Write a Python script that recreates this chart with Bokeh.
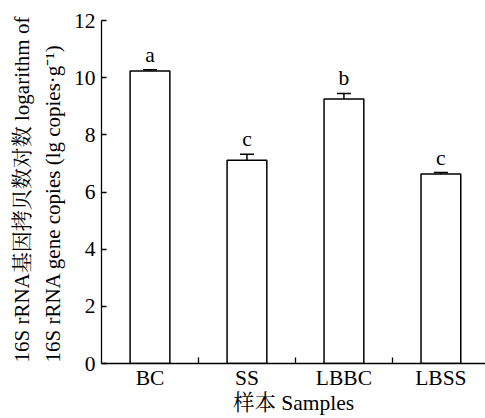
from bokeh.plotting import figure
from bokeh.models import (ColumnDataSource, Range1d, FixedTicker, Whisker, TeeHead, Title)
from bokeh.core.properties import value
from bokeh.embed import file_html
from bokeh.resources import INLINE

categories = ["BC", "SS", "LBBC", "LBSS"]
means = [10.23, 7.11, 9.25, 6.63]
errors = [0.05, 0.21, 0.20, 0.05]
letters = ["a", "c", "b", "c"]
y_ticks = [0, 2, 4, 6, 8, 10, 12]
x_title = "样本 Samples"
y_title_1 = "16S rRNA基因拷贝数对数 logarithm of"
y_title_2 = "16S rRNA gene copies (lg copies·g⁻¹)"

FONT = "Liberation Serif, Noto Serif CJK SC, Noto Sans CJK SC"
FS = "21.5px"
FS_T = "21px"
X_END = 3.96

xs = [i + 0.5 for i in range(len(categories))]
src = ColumnDataSource(dict(
    x=xs, top=means,
    upper=[m + e for m, e in zip(means, errors)],
    lower=[m - e for m, e in zip(means, errors)],
    letter=letters,
))

p = figure(width=485, height=418, output_backend="svg", toolbar_location=None,
           x_range=Range1d(0, X_END), y_range=Range1d(0, 12),
           min_border_left=101, min_border_right=0, min_border_top=20, min_border_bottom=55)
p.outline_line_color = None
p.xgrid.visible = False
p.ygrid.visible = False
p.background_fill_color = "white"
p.border_fill_color = "white"

p.vbar(x="x", top="top", width=0.41, source=src, fill_color="white",
       line_color="black", line_width=1.5)

w = Whisker(base="x", upper="upper", lower="lower", source=src,
            line_color="black", line_width=1.5,
            upper_head=TeeHead(size=14, line_color="black", line_width=1.5),
            lower_head=TeeHead(size=14, line_color="black", line_width=1.5))
p.add_layout(w)

p.text(x="x", y="upper", text="letter", source=src, text_align="center",
       text_baseline="bottom", y_offset=-3, text_font=value(FONT),
       text_font_size=FS, text_color="black")

# y axis
p.yaxis.ticker = FixedTicker(ticks=y_ticks)
p.yaxis.major_tick_in = 5
p.yaxis.major_tick_out = 0
p.yaxis.minor_tick_line_color = None
p.yaxis.axis_line_width = 1.3
p.yaxis.major_tick_line_width = 1.3
p.yaxis.major_label_text_font = FONT
p.yaxis.major_label_text_font_size = FS
p.yaxis.major_label_text_color = "black"
p.yaxis.major_label_standoff = 6

# x axis
p.xaxis.ticker = FixedTicker(ticks=xs, minor_ticks=[1, 2, 3])
p.xaxis.major_label_overrides = {x: c for x, c in zip(xs, categories)}
p.xaxis.major_tick_in = 0
p.xaxis.major_tick_out = 0
p.xaxis.minor_tick_in = 6
p.xaxis.minor_tick_out = 0
p.xaxis.minor_tick_line_width = 1.3
p.xaxis.axis_line_width = 1.3
p.xaxis.major_label_text_font = FONT
p.xaxis.major_label_text_font_size = FS
p.xaxis.major_label_text_color = "black"
p.xaxis.major_label_standoff = 2
p.xaxis.axis_label = x_title
p.xaxis.axis_label_text_font = FONT
p.xaxis.axis_label_text_font_size = FS
p.xaxis.axis_label_text_font_style = "normal"
p.xaxis.axis_label_text_color = "black"
p.xaxis.axis_label_standoff = -2

t2 = Title(text=y_title_2, align="left", offset=1,
           text_font=FONT, text_font_size=FS_T, text_font_style="normal",
           text_color="black", standoff=11)
t1 = Title(text=y_title_1, align="left", offset=1,
           text_font=FONT, text_font_size=FS_T, text_font_style="normal",
           text_color="black", standoff=0)
p.add_layout(t2, "left")
p.add_layout(t1, "left")

open("out.html", "w").write(file_html(p, INLINE))
